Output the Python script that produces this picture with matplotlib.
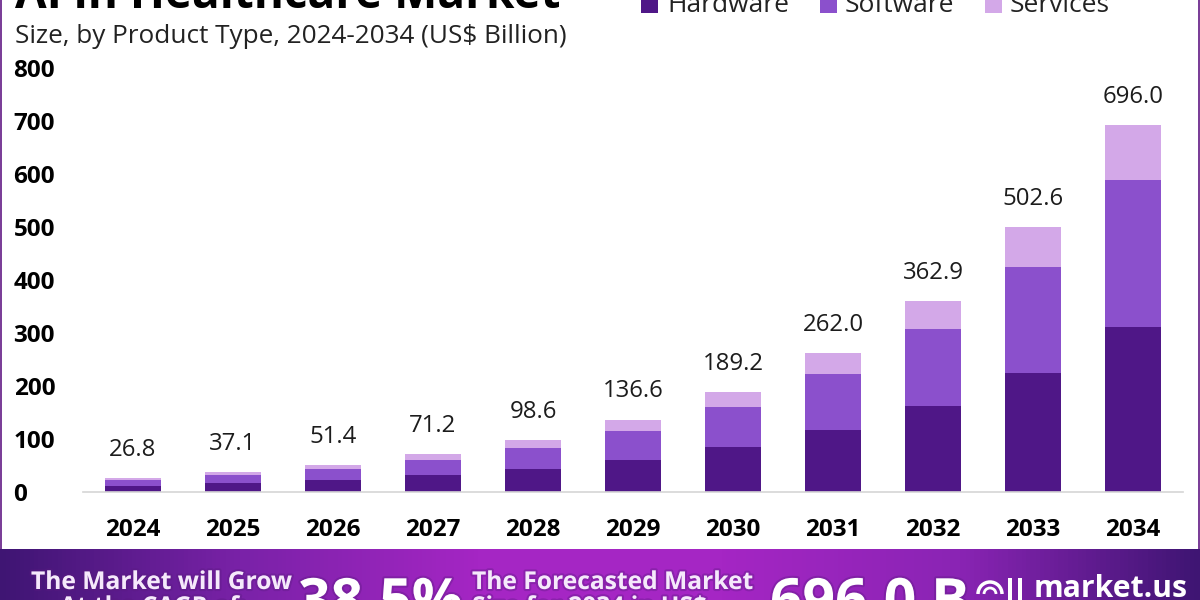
import numpy as np
import matplotlib
matplotlib.use('Agg')
import matplotlib.pyplot as plt
from matplotlib.colors import LinearSegmentedColormap
from matplotlib.patches import Arc, Rectangle
import matplotlib.patheffects as pe

YEARS = ['2024', '2025', '2026', '2027', '2028', '2029', '2030', '2031', '2032', '2033', '2034']
HARDWARE = [12.0, 16.6, 23.0, 32.0, 44.0, 61.0, 84.5, 117.0, 162.0, 225.0, 311.0]
SOFTWARE = [10.7, 14.8, 20.5, 28.5, 39.4, 54.6, 75.7, 105.0, 145.0, 200.0, 278.0]
SERVICES = [4.1, 5.7, 7.9, 10.7, 15.2, 21.0, 29.0, 40.0, 53.0, 75.0, 103.0]
TOTALS = ['26.8', '37.1', '51.4', '71.2', '98.6', '136.6', '189.2', '262.0', '362.9', '502.6', '696.0']
Y_TICKS = [0, 100, 200, 300, 400, 500, 600, 700, 800]

COLOR_HW = '#4f1787'
COLOR_SW = '#8b50cc'
COLOR_SV = '#d3a8e8'

plt.rcParams['font.family'] = ['Open Sans', 'DejaVu Sans']


def PxText(fig, x, y, s, **kw):
    # x, y are in pixels from the top left corner, y is the baseline
    return fig.text(x / 1200, 1 - y / 600, s, va='baseline', **kw)


fig = plt.figure(figsize=(12, 6), dpi=100, facecolor='white')

ax = fig.add_axes([83 / 1200, 1 - 492 / 600, 1100 / 1200, 424 / 600])
x = np.arange(len(YEARS))
hw = np.array(HARDWARE)
sw = np.array(SOFTWARE)
sv = np.array(SERVICES)
ax.bar(x, hw, width=0.56, color=COLOR_HW, label='Hardware')
ax.bar(x, sw, width=0.56, bottom=hw, color=COLOR_SW, label='Software')
ax.bar(x, sv, width=0.56, bottom=hw + sw, color=COLOR_SV, label='Services')

for i, label in enumerate(TOTALS):
    ax.annotate(label, (x[i], hw[i] + sw[i] + sv[i]), xytext=(0, 16), textcoords='offset points',
                ha='center', va='baseline', fontsize=17.3, color='#1c1c1c')

ax.set_xlim(-0.5, 10.5)
ax.set_ylim(0, 800)
ax.set_xticks(x)
ax.set_xticklabels(YEARS, fontsize=17.5, fontweight='bold', color='black')
ax.set_yticks(Y_TICKS)
ax.set_yticklabels([str(v) for v in Y_TICKS], fontsize=17.5, fontweight='bold', color='black', ha='left')
ax.tick_params(axis='both', length=0)
ax.tick_params(axis='x', pad=19)
ax.tick_params(axis='y', pad=50)
for name in ['top', 'left', 'right']:
    ax.spines[name].set_visible(False)
ax.spines['bottom'].set_color('#d5d5d5')
ax.spines['bottom'].set_linewidth(1.2)

# title is cut by the top edge in the source picture
PxText(fig, 15, 8, 'AI in Healthcare Market', fontsize=33, fontweight='bold', color='black')
PxText(fig, 15, 43, 'Size, by Product Type, 2024-2034 (US$ Billion)', fontsize=18.8, color='#222222')

# legend drawn by hand so that it sits cut at the top like the source
for box_x, name, col, text_x in [(641, 'Hardware', COLOR_HW, 667),
                                 (820, 'Software', COLOR_SW, 845),
                                 (985, 'Services', COLOR_SV, 1010)]:
    fig.add_artist(Rectangle((box_x / 1200, 1 - 13 / 600), 17 / 1200, 13 / 600,
                             transform=fig.transFigure, color=col, lw=0))
    PxText(fig, text_x, 12, name, fontsize=19, color='#222222')

# purple frame at the sides
fig.add_artist(Rectangle((0, 0), 2 / 1200, 1, transform=fig.transFigure, color='#7b3f98', lw=0))
fig.add_artist(Rectangle((1198 / 1200, 0), 2 / 1200, 1, transform=fig.transFigure, color='#7b3f98', lw=0))

# bottom banner
banner = fig.add_axes([0, 0, 1, 51 / 600], zorder=5)
cmap = LinearSegmentedColormap.from_list('banner', ['#3f1573', '#7a22a8', '#a526c4', '#a526c4', '#8a24b4', '#3f1573'])
grad = np.linspace(0, 1, 600).reshape(1, -1)
banner.imshow(grad, aspect='auto', cmap=cmap, extent=[0, 1200, 600, 549])
banner.set_xlim(0, 1200)
banner.set_ylim(600, 549)
banner.axis('off')

shadow = [pe.withStroke(linewidth=3, foreground='#5a1a80', alpha=0.35)]
small_kw = dict(fontsize=17.7, fontweight='bold', color='#f5e9fb', va='baseline', path_effects=shadow, zorder=6)
big_kw = dict(fontsize=41, fontweight='bold', color='white', va='baseline', path_effects=shadow, zorder=6)
banner.text(31, 589, 'The Market will Grow', **small_kw)
banner.text(60, 614, 'At the CAGR of:', clip_on=True, **small_kw)
banner.text(298, 619, '38.5%', clip_on=True, **big_kw)
banner.text(472, 589, 'The Forecasted Market', **small_kw)
banner.text(472, 614, 'Size for 2034 in US$', clip_on=True, **small_kw)
banner.text(770, 619, '696.0 B', clip_on=True, **big_kw)
banner.text(1034, 597, 'market.us', fontsize=21.7, fontweight='bold', color='white', zorder=6)

# logo mark
banner.add_patch(Arc((990, 594), 24, 24, theta1=180, theta2=360, color='white', lw=2.5, zorder=6))
banner.add_patch(Arc((990, 594), 12, 12, theta1=180, theta2=360, color='white', lw=2, zorder=6))
banner.add_patch(Rectangle((1008, 578), 4, 22, color='white', lw=0, zorder=6))
banner.add_patch(Rectangle((1018, 578), 4, 22, color='white', lw=0, zorder=6))

fig.savefig('out.png', dpi=100)
